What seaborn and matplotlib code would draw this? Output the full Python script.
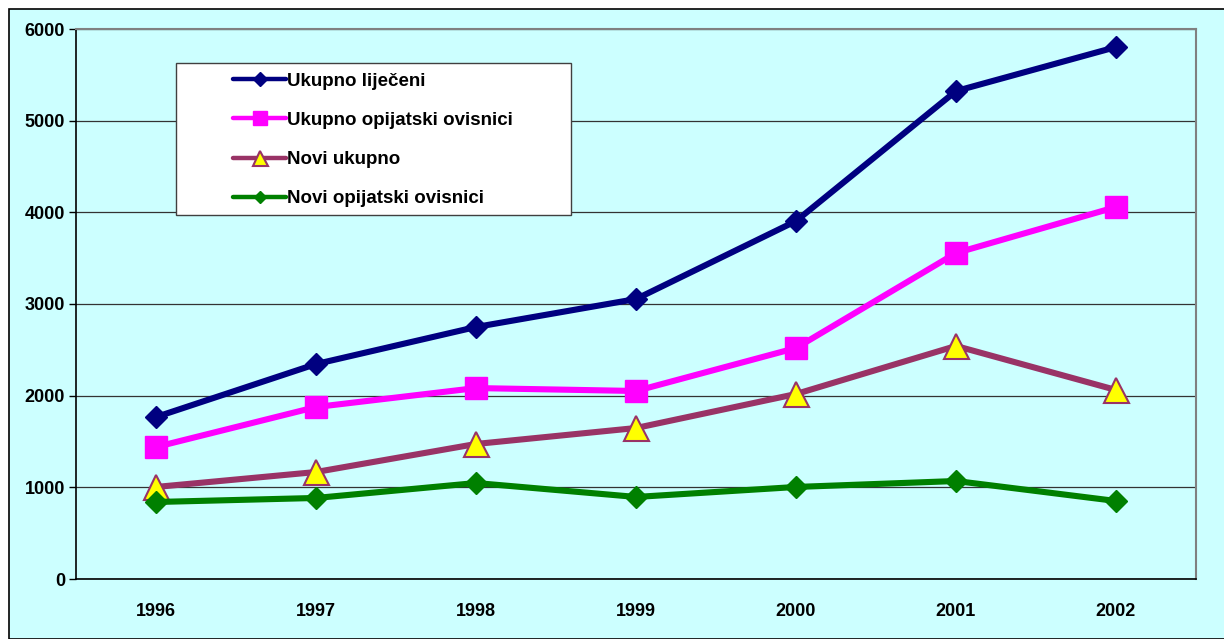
import matplotlib
matplotlib.use("Agg")
import matplotlib.pyplot as plt
from matplotlib.patches import Rectangle
import pandas as pd
import seaborn as sns

years = [1996, 1997, 1998, 1999, 2000, 2001, 2002]
ukupno_lijeceni = [1767, 2345, 2749, 3054, 3905, 5323, 5803]
ukupno_opijatski = [1440, 1876, 2083, 2051, 2520, 3556, 4058]
novi_ukupno = [1004, 1167, 1473, 1647, 2018, 2542, 2062]
novi_opijatski = [840, 884, 1047, 895, 1004, 1069, 851]

labels = ["Ukupno liječeni", "Ukupno opijatski ovisnici", "Novi ukupno", "Novi opijatski ovisnici"]

sns.set_theme(style="white")
plt.rcParams["font.family"] = ["Liberation Sans", "DejaVu Sans"]
plt.rcParams["font.weight"] = "bold"
plt.rcParams["text.color"] = "black"
plt.rcParams["xtick.color"] = "black"
plt.rcParams["ytick.color"] = "black"

bg = "#CCFFFF"
fig = plt.figure(figsize=(12.24, 6.39), dpi=100, facecolor="white")
fig.patches.append(Rectangle((9 / 1224, 0), 1.0, 1 - 9 / 639, transform=fig.transFigure,
                             facecolor=bg, edgecolor="black", linewidth=1.2, zorder=-10))
ax = fig.add_axes([76 / 1224, 1 - 579 / 639, 1120 / 1224, 550 / 639])
ax.set_facecolor(bg)

df = pd.DataFrame({"year": years})
styles = [
    (ukupno_lijeceni, "#000080", "D", 11.5, "#000080", "#000080", 1.0),
    (ukupno_opijatski, "#FF00FF", "s", 16, "#FF00FF", "#FF00FF", 1.0),
    (novi_ukupno, "#993366", "^", 18, "#FFFF00", "#993366", 1.5),
    (novi_opijatski, "#008000", "D", 11, "#008000", "#008000", 1.0),
]
for (vals, col, mk, ms, mfc, mec, mew), lab in zip(styles, labels):
    df["v"] = vals
    sns.lineplot(data=df, x="year", y="v", ax=ax, color=col, linewidth=4.4, marker=mk,
                 markersize=ms, markerfacecolor=mfc, markeredgecolor=mec,
                 markeredgewidth=mew, label=lab, zorder=3)

ax.set_xlim(1995.5, 2002.5)
ax.set_ylim(0, 6000)
ax.set_yticks(range(0, 6001, 1000))
ax.set_xticks(years)
ax.set_xticks([y + 0.5 for y in years[:-1]], minor=True)
ax.set_xlabel("")
ax.set_ylabel("")
ax.tick_params(axis="x", which="major", length=0, pad=17, labelsize=13)
ax.tick_params(axis="x", which="minor", length=5, width=1, color="black", direction="out")
ax.tick_params(axis="y", length=5, width=1, color="black", direction="out", pad=3, labelsize=13)
ax.tick_params(left=True, bottom=True)
for t in ax.get_xticklabels() + ax.get_yticklabels():
    t.set_fontweight("bold")
ax.grid(axis="y", color="#333333", linewidth=0.9)
ax.grid(axis="x", visible=False)
for s in ["left", "bottom"]:
    ax.spines[s].set_color("black")
    ax.spines[s].set_linewidth(1.2)
for s in ["top", "right"]:
    ax.spines[s].set_color("#808080")
    ax.spines[s].set_linewidth(1.5)

# legend frame
ax.add_patch(Rectangle(((176 - 76) / 1120, (579 - 215) / 550), (571 - 176) / 1120, (215 - 63) / 550,
                       transform=ax.transAxes, facecolor="white", edgecolor="#404040",
                       linewidth=1.0, zorder=4))
leg = ax.legend(loc="upper left", bbox_to_anchor=((233 - 76) / 1120, (579 - 72.5) / 550),
                frameon=False, fontsize=13.5, handlelength=2.85, handletextpad=0.05,
                labelspacing=1.18, borderpad=0, borderaxespad=0, markerscale=0.6)
leg.set_zorder(5)
for t in leg.get_texts():
    t.set_fontweight("bold")
for h in leg.get_lines():
    h.set_linewidth(3.2)

fig.savefig("out.png", dpi=100, facecolor=fig.get_facecolor())
